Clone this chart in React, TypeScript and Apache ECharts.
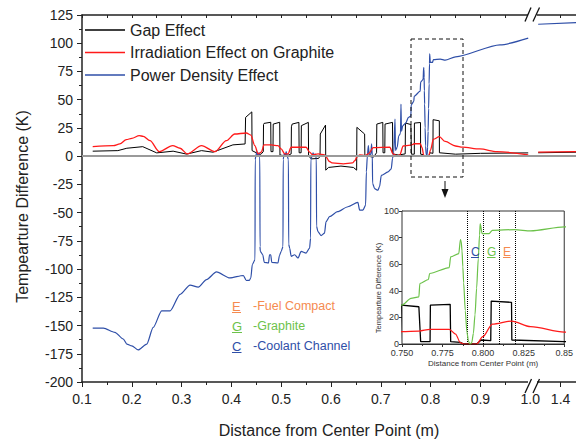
import React, { useEffect, useRef } from "react";
import * as echarts from "echarts";

// ---- axis break mapping (left segment 0.1–1.0, right segment from 1.3 m compressed) ----
const BREAK_POS = 1.016;
const RIGHT_START = 1.3;
const RIGHT_SCALE = 0.45;
const xPos = (x: number) => (x <= 1.0 + 1e-9 ? x : BREAK_POS + (x - RIGHT_START) * RIGHT_SCALE);

const xMajorTicks = [0.1, 0.2, 0.3, 0.4, 0.5, 0.6, 0.7, 0.8, 0.9, 1.0, 1.4];
const xMinorTicks = [0.15, 0.25, 0.35, 0.45, 0.55, 0.65, 0.75, 0.85, 0.95];
const yTicks = { min: -200, max: 125, interval: 25 };

const legendNames = ["Gap Effect", "Irradiation Effect on Graphite", "Power Density Effect"];

// Gap Effect (black)
const gapEffect: [number, number | null][] = [
  [0.1215, 4.4], [0.172, 4.9], [0.19, 7], [0.222, 8.4], [0.25, 2.9], [0.283, 4.4], [0.31, 1.8],
  [0.34, 4.9], [0.363, 3.5], [0.403, 10], [0.4275, 10.8],
  [0.4285, 34.3], [0.441, 39.2], [0.4415, 4.9], [0.45, 3], [0.455, 1], [0.46, 2], [0.464, 4],
  [0.4645, 28], [0.4655, 29], [0.479, 30], [0.4795, 4], [0.4835, 4], [0.484, 28.4], [0.497, 30], [0.4975, 1],
  [0.505, 0.5], [0.515, 1], [0.52, 2], [0.5205, 26], [0.522, 28.4], [0.5355, 29.9], [0.536, 3], [0.54, 3],
  [0.5405, 27], [0.5545, 29.9], [0.555, 0.5], [0.56, -2.4], [0.575, -2], [0.578, 0],
  [0.5785, 19.6], [0.589, 27.5], [0.5895, -12.4], [0.595, -10], [0.62, -8.8], [0.645, -10], [0.6515, -12.4],
  [0.652, 25.5], [0.6675, 19.6], [0.668, 0.5], [0.675, 0], [0.685, -1], [0.6915, 3],
  [0.692, 28.4], [0.704, 29.9], [0.7045, 3], [0.708, 3], [0.7085, 28.4], [0.7235, 29.9], [0.724, 2],
  [0.735, 1], [0.749, 2],
  [0.7495, 29.3], [0.7604, 28], [0.7615, 1.75], [0.7673, 1.75], [0.7675, 29.3], [0.7797, 29.8],
  [0.78, 1.75], [0.786, 1.25], [0.788, 0], [0.796, 0], [0.7988, 3], [0.8047, 2.5], [0.805, 32.3],
  [0.8175, 31.3], [0.8177, 3], [0.85, 1.75], [0.9, 2.5], [0.996, 2.9],
  [1.008, null], [1.3, 3], [1.47, 3.5],
];

// Irradiation Effect on Graphite (red)
const irradiationEffect: [number, number | null][] = [
  [0.1215, 8.4], [0.163, 9.3], [0.176, 10.8], [0.189, 14.6], [0.2, 15.8], [0.215, 18.1], [0.223, 17.6],
  [0.2365, 13.7], [0.255, 4], [0.282, 9.3], [0.297, 7], [0.3115, 2], [0.34, 9.3], [0.367, 4],
  [0.39, 13.7], [0.4066, 19.6], [0.43, 20.5], [0.439, 18.7], [0.447, 9.3], [0.4537, 2], [0.46, 3.5],
  [0.4655, 9.9], [0.48, 9.9], [0.4935, 9.3], [0.5, 6.4], [0.507, 2], [0.5137, 2], [0.52, 7.9],
  [0.55, 7.9], [0.557, 3.5], [0.5635, 1.1], [0.574, 2], [0.587, 1.1], [0.591, -1], [0.596, -4.5],
  [0.602, -6], [0.625, -6.8], [0.643, -6], [0.648, -4], [0.6515, -0.9], [0.658, 1.1], [0.668, 0.5],
  [0.675, 2], [0.685, 7.5], [0.718, 7.9], [0.7245, 2], [0.732, 0.5], [0.738, 1], [0.745, 9],
  [0.75, 9.25], [0.7604, 9.75], [0.7673, 11], [0.7791, 11], [0.783, 7.5], [0.786, 1], [0.788, 0],
  [0.796, 0], [0.7998, 5.5], [0.8057, 15], [0.8175, 17.25], [0.8293, 13], [0.85, 9], [0.864, 8],
  [0.899, 6.4], [0.933, 4], [0.996, 1.1],
  [1.008, null], [1.3, 3.5], [1.47, 4],
];

// Power Density Effect (blue in main plot, green in the inset)
const powerDensityEffect: [number, number | null][] = [
  [0.1215, -152.3], [0.143, -152.3], [0.166, -156], [0.183, -162], [0.19, -166.4], [0.2, -168],
  [0.213, -171.6], [0.23, -166.4], [0.243, -151.7], [0.26, -137], [0.277, -137], [0.297, -122.4],
  [0.317, -114.2], [0.3335, -116], [0.35, -109.3], [0.37, -102.5], [0.397, -107.8], [0.424, -105.7],
  [0.43, -110.1], [0.436, -110], [0.439, -107.8], [0.442, -96], [0.4474, -91.7],
  [0.4478, -3], [0.449, 0], [0.451, 4], [0.453, 0], [0.455, 3], [0.457, 0], [0.4575, -80],
  [0.458, -84.3], [0.463, -87.3], [0.466, -94], [0.4745, -94.6], [0.4765, -87.3], [0.479, -87.3],
  [0.481, -94], [0.4935, -94.6], [0.4965, -88], [0.5, -84.3], [0.5036, -80], [0.504, -3],
  [0.506, 2], [0.508, 0], [0.51, 4], [0.512, 0], [0.5145, -3], [0.515, -78], [0.517, -81.4],
  [0.52, -88.7], [0.527, -87.3], [0.5337, -90.2], [0.54, -84.3], [0.55, -85.8], [0.557, -81.4],
  [0.559, -72.6], [0.5595, -3], [0.562, 0], [0.564, 3], [0.566, 0], [0.568, 2], [0.5705, -2],
  [0.571, -62], [0.5737, -66.8], [0.58, -70.3], [0.587, -68.2], [0.59, -58], [0.597, -53.6],
  [0.613, -49.2], [0.634, -44.8], [0.654, -41], [0.6575, -47.8], [0.664, -47.8], [0.6695, -43.4],
  [0.671, -14], [0.673, 0], [0.675, 9.3], [0.677, 0], [0.68, 2], [0.6815, 10.8], [0.683, 0],
  [0.6835, -24], [0.6875, -28.7], [0.694, -30.2], [0.6975, -27], [0.701, -17], [0.7145, -14],
  [0.721, -11.2], [0.7235, -2], [0.726, 3.5], [0.7285, 32.8], [0.7295, 5], [0.733, 8], [0.736, 18],
  [0.7395, 20], [0.7405, 46], [0.7415, 22], [0.744, 26.9],
  [0.75, 29.3], [0.7555, 34.3], [0.7604, 35.5], [0.761, 45.5], [0.7663, 48.5], [0.767, 53],
  [0.7791, 57.5], [0.78, 65.5], [0.785, 68], [0.786, 78.5], [0.7865, 77], [0.787, 70], [0.7875, 58],
  [0.788, 46], [0.789, 25], [0.79, 9], [0.791, 2], [0.792, 0], [0.793, 1], [0.794, 8], [0.795, 22],
  [0.796, 42], [0.797, 64], [0.7978, 82], [0.7982, 90.5], [0.7994, 83], [0.8037, 83], [0.8057, 85.5],
  [0.8195, 86], [0.8293, 85], [0.85, 88], [0.9394, 98.6], [0.996, 104.5],
  [1.008, null], [1.3, 116.8], [1.47, 118.2],
];

// inset
const insetX = { min: 0.75, max: 0.85, interval: 0.025 };
const insetY = { min: 0, max: 100, interval: 20 };
const insetBoundaries = [0.786, 0.7988, 0.805, 0.8175];

const FONT = 'Arial, "Liberation Sans", sans-serif';
const BLACK = "#000000";
const RED = "#ff1a1a";
const BLUE = "#2f4fa8";
const GREEN = "#6cc24a";
const ORANGE = "#f58a4f";

const toData = (pts: [number, number | null][]) =>
  pts.map(([x, y]) => [xPos(x), y === null ? "-" : y]);

export default function App() {
  const ref = useRef<HTMLDivElement>(null);
  useEffect(() => {
    if (!ref.current) return;
    const chart = echarts.init(ref.current, undefined, { renderer: "svg" });
    const xMax = 0.1 + 494 / 498;
    const majorPos = xMajorTicks.map(xPos);
    const allPos = [...majorPos, ...xMinorTicks].sort((a, b) => a - b);
    const axisColor = "#222";

    const underline = (x: number, y: number, w: number, color: string) => ({
      type: "line",
      shape: { x1: x, y1: y, x2: x + w, y2: y },
      style: { stroke: color, lineWidth: 1 },
      z: 20,
    });
    const txt = (x: number, y: number, text: string, color: string, size: number, extra: any = {}) => ({
      type: "text",
      x,
      y,
      style: { text, fill: color, font: `${size}px ${FONT}`, textVerticalAlign: "middle", ...extra },
      z: 20,
    });

    const option: any = {
      animation: false,
      backgroundColor: "#fff",
      textStyle: { fontFamily: FONT },
      grid: [
        { left: 82, top: 15, right: 0, bottom: 58 },
        {
          left: 402, top: 211, width: 170, height: 133, show: true,
          borderColor: "#333", borderWidth: 1, backgroundColor: "#fff", z: 5,
        },
      ],
      legend: {
        data: legendNames,
        orient: "vertical",
        left: 80,
        top: 17,
        padding: 5,
        icon: "rect",
        itemWidth: 40,
        itemHeight: 1.5,
        itemGap: 6.5,
        textStyle: { fontSize: 16, color: "#222", fontFamily: FONT },
      },
      xAxis: [
        {
          type: "value", gridIndex: 0, min: 0.1, max: xMax, position: "bottom",
          axisLine: { show: true, onZero: false, lineStyle: { color: axisColor, width: 1.5 } },
          axisTick: { show: true, customValues: majorPos, length: 5, lineStyle: { color: axisColor } },
          axisLabel: {
            customValues: majorPos, fontSize: 14, color: "#222", margin: 10, fontFamily: FONT,
            formatter: (v: number) => (v > 1.001 ? "1.4" : v.toFixed(1)),
          },
          splitLine: { show: false },
          name: "Distance from Center Point (m)",
          nameLocation: "middle",
          nameGap: 40,
          nameTextStyle: { fontSize: 16, color: "#222", fontFamily: FONT },
        },
        {
          type: "value", gridIndex: 0, min: 0.1, max: xMax, position: "top",
          axisLine: { show: true, onZero: false, lineStyle: { color: axisColor, width: 1.5 } },
          axisTick: { show: true, inside: true, customValues: allPos, length: 3, lineStyle: { color: axisColor } },
          axisLabel: { show: false },
          splitLine: { show: false },
        },
        {
          type: "value", gridIndex: 0, min: 0.1, max: xMax, position: "bottom",
          axisLine: { show: false, onZero: false },
          axisTick: { show: true, customValues: xMinorTicks, length: 3, lineStyle: { color: axisColor } },
          axisLabel: { show: false },
          splitLine: { show: false },
        },
        {
          type: "value", gridIndex: 1, min: insetX.min, max: insetX.max, interval: insetX.interval,
          axisLine: { show: true, onZero: false, lineStyle: { color: "#333", width: 1 } },
          axisTick: { show: true, length: 3, lineStyle: { color: "#333" } },
          minorTick: { show: true, splitNumber: 2, length: 2, lineStyle: { color: "#333" } },
          axisLabel: {
            fontSize: 9, color: "#333", margin: 4, fontFamily: FONT,
            formatter: (v: number) => (v > 0.849 ? "0.85" : v.toFixed(3)),
          },
          splitLine: { show: false },
          name: "Distance from Center Point (m)",
          nameLocation: "middle",
          nameGap: 15,
          nameTextStyle: { fontSize: 8, color: "#333", fontFamily: FONT },
        },
      ],
      yAxis: [
        {
          type: "value", gridIndex: 0, min: yTicks.min, max: yTicks.max, interval: yTicks.interval,
          axisLine: { show: true, onZero: false, lineStyle: { color: axisColor, width: 1.5 } },
          axisTick: { show: true, length: 5, lineStyle: { color: axisColor } },
          minorTick: { show: true, splitNumber: 2, length: 3, lineStyle: { color: axisColor } },
          axisLabel: { fontSize: 14, color: "#222", margin: 9, fontFamily: FONT },
          splitLine: { show: false },
          name: "Tempearture Difference (K)",
          nameLocation: "middle",
          nameGap: 52,
          nameTextStyle: { fontSize: 16, color: "#222", fontFamily: FONT, padding: [0, 0, 0, -16] },
        },
        {
          type: "value", gridIndex: 1, min: insetY.min, max: insetY.max, interval: insetY.interval,
          axisLine: { show: true, onZero: false, lineStyle: { color: "#333", width: 1 } },
          axisTick: { show: true, length: 3, lineStyle: { color: "#333" } },
          axisLabel: { fontSize: 9, color: "#333", margin: 3, fontFamily: FONT },
          splitLine: { show: false },
        },
      ],
      series: [
        {
          name: "zero", type: "line", xAxisIndex: 0, yAxisIndex: 0, data: [], z: 1, silent: true,
          markLine: {
            symbol: "none", silent: true, label: { show: false },
            lineStyle: { color: "#9a9a9a", width: 2, type: "solid" },
            data: [{ yAxis: 0 }],
          },
        },
        {
          name: legendNames[0], type: "line", xAxisIndex: 0, yAxisIndex: 0, data: toData(gapEffect),
          symbol: "none", showSymbol: false, lineStyle: { color: BLACK, width: 1 }, itemStyle: { color: BLACK }, z: 3,
        },
        {
          name: legendNames[1], type: "line", xAxisIndex: 0, yAxisIndex: 0, data: toData(irradiationEffect),
          symbol: "none", showSymbol: false, smooth: 0.3, smoothMonotone: "x",
          lineStyle: { color: RED, width: 1.3 }, itemStyle: { color: RED }, z: 4,
        },
        {
          name: legendNames[2], type: "line", xAxisIndex: 0, yAxisIndex: 0, data: toData(powerDensityEffect),
          symbol: "none", showSymbol: false, smooth: 0.25, smoothMonotone: "x",
          lineStyle: { color: BLUE, width: 1.2 }, itemStyle: { color: BLUE }, z: 3,
        },
        {
          name: "inset-gap", type: "line", xAxisIndex: 3, yAxisIndex: 1, data: toData(gapEffect),
          symbol: "none", clip: true, lineStyle: { color: BLACK, width: 1.3 }, z: 6,
          markLine: {
            symbol: "none", silent: true, label: { show: false },
            lineStyle: { color: "#000", width: 1, type: "dotted" },
            data: insetBoundaries.map((b) => ({ xAxis: b })),
          },
        },
        {
          name: "inset-irradiation", type: "line", xAxisIndex: 3, yAxisIndex: 1, data: toData(irradiationEffect),
          symbol: "none", clip: true, smooth: 0.3, smoothMonotone: "x",
          lineStyle: { color: RED, width: 1.2 }, z: 6,
        },
        {
          name: "inset-power", type: "line", xAxisIndex: 3, yAxisIndex: 1, data: toData(powerDensityEffect),
          symbol: "none", clip: true, smooth: 0.25, smoothMonotone: "x",
          lineStyle: { color: GREEN, width: 1.2 }, z: 6,
        },
      ],
      graphic: [
        // dashed zoom box and arrow
        {
          type: "rect", shape: { x: 411, y: 39, width: 52, height: 138 },
          style: { fill: "none", stroke: "#111", lineWidth: 1, lineDash: [4, 3] }, z: 20,
        },
        { type: "line", shape: { x1: 445, y1: 181, x2: 445, y2: 192 }, style: { stroke: "#111", lineWidth: 1 }, z: 20 },
        { type: "polygon", shape: { points: [[441.5, 189], [448.5, 189], [445, 198]] }, style: { fill: "#111" }, z: 20 },
        // axis breaks
        { type: "rect", shape: { x: 528, y: 9, width: 9, height: 12 }, style: { fill: "#fff" }, z: 20 },
        { type: "rect", shape: { x: 528, y: 380, width: 9, height: 11 }, style: { fill: "#fff" }, z: 20 },
        { type: "line", shape: { x1: 525, y1: 21.5, x2: 531, y2: 7.5 }, style: { stroke: "#111", lineWidth: 1.3 }, z: 21 },
        { type: "line", shape: { x1: 533, y1: 21.5, x2: 539.5, y2: 7.5 }, style: { stroke: "#111", lineWidth: 1.3 }, z: 21 },
        { type: "line", shape: { x1: 525, y1: 393, x2: 531.5, y2: 379 }, style: { stroke: "#111", lineWidth: 1.3 }, z: 21 },
        { type: "line", shape: { x1: 533, y1: 393, x2: 539.5, y2: 379 }, style: { stroke: "#111", lineWidth: 1.3 }, z: 21 },
        // region legend
        txt(232, 306, "E", ORANGE, 13),
        underline(232, 312.5, 9, ORANGE),
        txt(253, 306, "-Fuel Compact", ORANGE, 12.5),
        txt(232, 326, "G", GREEN, 13),
        underline(232, 332.5, 10, GREEN),
        txt(253, 326, "-Graphite", GREEN, 12.5),
        txt(232, 346, "C", BLUE, 13),
        underline(232, 352.5, 9.5, BLUE),
        txt(253, 346, "-Coolant Channel", BLUE, 12.5),
        // inset letters
        txt(471, 251.5, "C", BLUE, 12),
        underline(471, 257.5, 8, BLUE),
        txt(487, 251.5, "G", GREEN, 12),
        underline(487, 257.5, 8.5, GREEN),
        txt(503, 251.5, "E", ORANGE, 12),
        underline(503, 257.5, 7.5, ORANGE),
        // inset y title
        {
          type: "text", x: 378, y: 288, rotation: Math.PI / 2,
          style: { text: "Tempearture Difference (K)", fill: "#333", font: `7.5px ${FONT}`, textAlign: "center", textVerticalAlign: "middle" },
          z: 20,
        },
      ],
    };
    chart.setOption(option);
    return () => chart.dispose();
  }, []);
  return (
    <div
      ref={ref}
      style={{ position: "fixed", left: 0, top: 0, width: 576, height: 443, background: "#fff" }}
    />
  );
}
